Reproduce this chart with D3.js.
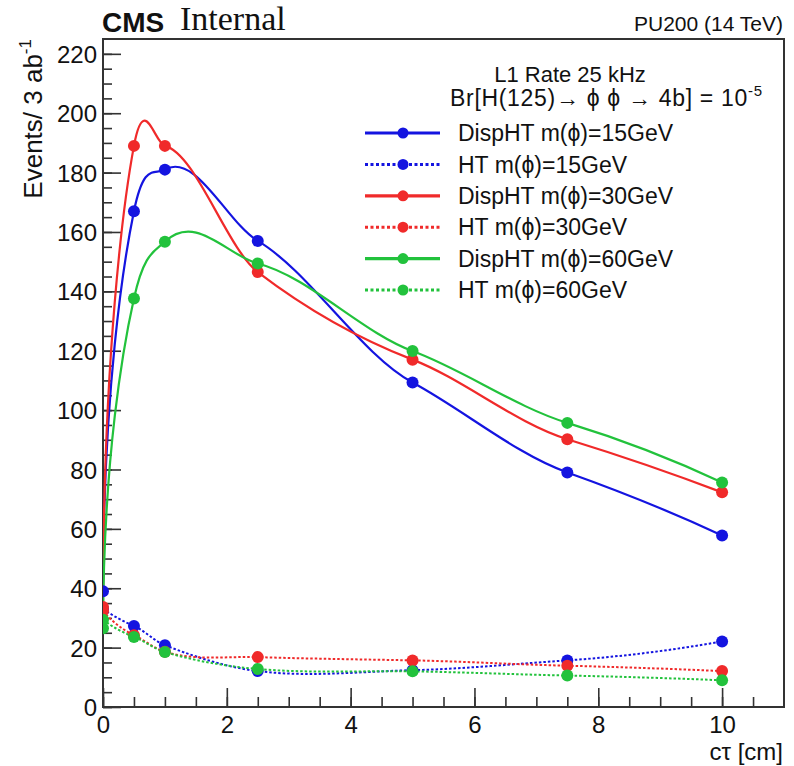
<!DOCTYPE html>
<html>
<head>
<meta charset="utf-8">
<script src="https://cdn.jsdelivr.net/npm/d3@7"></script>
<style>
  body { margin: 0; background: #fff; }
  text { font-family: 'Liberation Sans', Arial, sans-serif; fill: #111; }
</style>
</head>
<body>
<svg id="chart" width="794" height="766"></svg>
<script>
// c tau points (cm)
const ctau = [0, 0.5, 1, 2.5, 5, 7.5, 10];

// events / 3 ab-1
const dispHT15 = [39, 167, 181, 157, 109.3, 79, 57.8];
const ht15     = [33, 27.3, 20.8, 12.1, 12.4, 15.7, 22.1];
const dispHT30 = [33.7, 189, 189, 146.5, 117, 90.2, 72.3];
const ht30     = [32.3, 24.2, 18.6, 16.8, 15.7, 13.9, 12.1];
const dispHT60 = [26.5, 137.6, 156.7, 149.4, 119.9, 95.7, 75.6];
const ht60     = [29.4, 23.6, 18.5, 12.8, 12.0, 10.6, 9.0];

const seriesNames = ['DispHT m(\u03d5)=15GeV', 'HT m(\u03d5)=15GeV',
                     'DispHT m(\u03d5)=30GeV', 'HT m(\u03d5)=30GeV',
                     'DispHT m(\u03d5)=60GeV', 'HT m(\u03d5)=60GeV'];
const seriesValues = [dispHT15, ht15, dispHT30, ht30, dispHT60, ht60];
const seriesColors = ['#1414e0', '#1414e0', '#f02a2a', '#f02a2a', '#22c23c', '#22c23c'];
const seriesDotted = [false, true, false, true, false, true];

const xTicks = [0, 2, 4, 6, 8, 10];
const yTicks = [0, 20, 40, 60, 80, 100, 120, 140, 160, 180, 200, 220];

const svg = d3.select('#chart');
const padL = 103, padR = 784, padT = 39, padB = 707;

const x = d3.scaleLinear().domain([0, 11]).range([padL, padR]);
const y = d3.scaleLinear().domain([0, 225]).range([padB, padT]);

// smoothed graph: hermite pieces with 3-point (Bessel) slopes, a bit damped,
// steep end pieces leave the end point almost vertically like ROOT's "C" option
const damp = 0.72;
function Smooth(context) { this._context = context; }
Smooth.prototype = {
    areaStart() { this._line = 0; },
    areaEnd() { this._line = NaN; },
    lineStart() { this._px = []; this._py = []; },
    point(px, py) { this._px.push(+px); this._py.push(+py); },
    lineEnd() {
        const X = this._px, Y = this._py, n = X.length, ctx = this._context;
        if (!n) return;
        ctx.moveTo(X[0], Y[0]);
        if (n < 3) { for (let i = 1; i < n; i++) ctx.lineTo(X[i], Y[i]); return; }
        const h = [], s = [], m = new Array(n);
        for (let i = 0; i < n - 1; i++) {
            h.push(X[i + 1] - X[i]);
            s.push((Y[i + 1] - Y[i]) / h[i]);
        }
        for (let i = 1; i < n - 1; i++) {
            m[i] = damp * (h[i] * s[i - 1] + h[i - 1] * s[i]) / (h[i - 1] + h[i]);
        }
        m[0] = 2 * s[0] - m[1];
        m[n - 1] = 2 * s[n - 2] - m[n - 2];
        const gStart = 1 / (1 + (m[0] / 4) ** 2);
        const gEnd = 1 / (1 + (m[n - 1] / 4) ** 2);
        for (let i = 0; i < n - 1; i++) {
            const k0 = i === 0 ? gStart : 1;
            const k1 = i === n - 2 ? gEnd : 1;
            ctx.bezierCurveTo(X[i] + k0 * h[i] / 3, Y[i] + m[i] * h[i] / 3,
                              X[i + 1] - k1 * h[i] / 3, Y[i + 1] - m[i + 1] * h[i] / 3,
                              X[i + 1], Y[i + 1]);
        }
    }
};
const curveSmooth = context => new Smooth(context);

svg.append('defs').append('clipPath').attr('id', 'frameClip')
    .append('rect')
    .attr('x', padL).attr('y', padT)
    .attr('width', padR - padL).attr('height', padB - padT);

// axes, ROOT style ticks pointing inside the frame
const yMinor = svg.append('g').attr('transform', `translate(${padL},0)`)
    .call(d3.axisLeft(y).tickValues(d3.range(0, 221, 5)).tickSize(-9).tickFormat(''));
const yMajor = svg.append('g').attr('transform', `translate(${padL},0)`)
    .call(d3.axisLeft(y).tickValues(yTicks).tickSize(-18).tickPadding(6).tickFormat(d3.format('d')));
const xMinor = svg.append('g').attr('transform', `translate(0,${padB})`)
    .call(d3.axisBottom(x).tickValues(d3.range(0, 11, 0.5)).tickSize(-10).tickFormat(''));
const xMajor = svg.append('g').attr('transform', `translate(0,${padB})`)
    .call(d3.axisBottom(x).tickValues(xTicks).tickSize(-19).tickPadding(9).tickFormat(d3.format('d')));

[yMinor, yMajor, xMinor, xMajor].forEach(g => {
    g.select('.domain').remove();
    g.selectAll('line').attr('stroke', '#333').attr('stroke-width', 1.6);
    g.selectAll('text').attr('font-size', 24).attr('fill', '#111')
        .style('font-family', "'Liberation Sans', Arial, sans-serif");
});
yMajor.selectAll('text').attr('dy', '0.36em');
xMajor.selectAll('text').attr('dy', '0.71em');

svg.append('rect')
    .attr('x', padL).attr('y', padT)
    .attr('width', padR - padL).attr('height', padB - padT)
    .attr('fill', 'none').attr('stroke', '#333').attr('stroke-width', 2);

// curves
const line = d3.line()
    .x(d => x(d[0]))
    .y(d => y(d[1]))
    .curve(curveSmooth);

const plot = svg.append('g').attr('clip-path', 'url(#frameClip)');
seriesValues.forEach((vals, i) => {
    const pts = ctau.map((c, j) => [c, vals[j]]);
    plot.append('path')
        .attr('d', line(pts))
        .attr('fill', 'none')
        .attr('stroke', seriesColors[i])
        .attr('stroke-width', seriesDotted[i] ? 2 : 2.2)
        .attr('stroke-dasharray', seriesDotted[i] ? '2.5,2' : null);
});
seriesValues.forEach((vals, i) => {
    plot.append('g')
        .selectAll('circle')
        .data(ctau.map((c, j) => [c, vals[j]]))
        .join('circle')
        .attr('cx', d => x(d[0]))
        .attr('cy', d => y(d[1]))
        .attr('r', 6)
        .attr('fill', seriesColors[i]);
});

// legend
const legend = svg.append('g');
legend.append('text').attr('x', 570).attr('y', 82)
    .attr('text-anchor', 'middle').attr('font-size', 22)
    .text('L1 Rate 25 kHz');
const br = legend.append('text').attr('x', 450).attr('y', 106).attr('font-size', 23)
    .attr('textLength', 312).attr('lengthAdjust', 'spacing');
br.append('tspan').text('Br[H(125)\u2192 \u03d5 \u03d5 \u2192 4b] = 10');
br.append('tspan').attr('font-size', 15).attr('dy', -10).text('-5');

const rowY = d3.scaleLinear().domain([0, 5]).range([133, 290]);
seriesNames.forEach((name, i) => {
    const g = legend.append('g').attr('transform', `translate(0,${rowY(i)})`);
    g.append('line').attr('x1', 365).attr('x2', 440)
        .attr('stroke', seriesColors[i])
        .attr('stroke-width', seriesDotted[i] ? 3 : 3.2)
        .attr('stroke-dasharray', seriesDotted[i] ? '3,2.5' : null);
    g.append('circle').attr('cx', 403).attr('r', 5.5).attr('fill', seriesColors[i]);
    g.append('text').attr('x', 458).attr('dy', '0.36em')
        .attr('font-size', 23).text(name);
});

// titles
svg.append('text').attr('x', 783).attr('y', 760)
    .attr('text-anchor', 'end').attr('font-size', 24)
    .text('c\u03c4 [cm]');

const yt = svg.append('text')
    .attr('transform', 'translate(42,39) rotate(-90)')
    .attr('text-anchor', 'end').attr('font-size', 26);
yt.append('tspan').text('Events/ 3 ab');
yt.append('tspan').attr('font-size', 17).attr('dy', -11).text('-1');

svg.append('text').attr('x', 102).attr('y', 32)
    .attr('font-size', 28).attr('font-weight', 'bold').text('CMS');
svg.append('text').attr('x', 180).attr('y', 30)
    .attr('font-size', 34).style('font-family', "'Liberation Serif', 'Times New Roman', serif")
    .text('Internal');
svg.append('text').attr('x', 783).attr('y', 31)
    .attr('text-anchor', 'end').attr('font-size', 21)
    .text('PU200 (14 TeV)');
</script>
</body>
</html>
